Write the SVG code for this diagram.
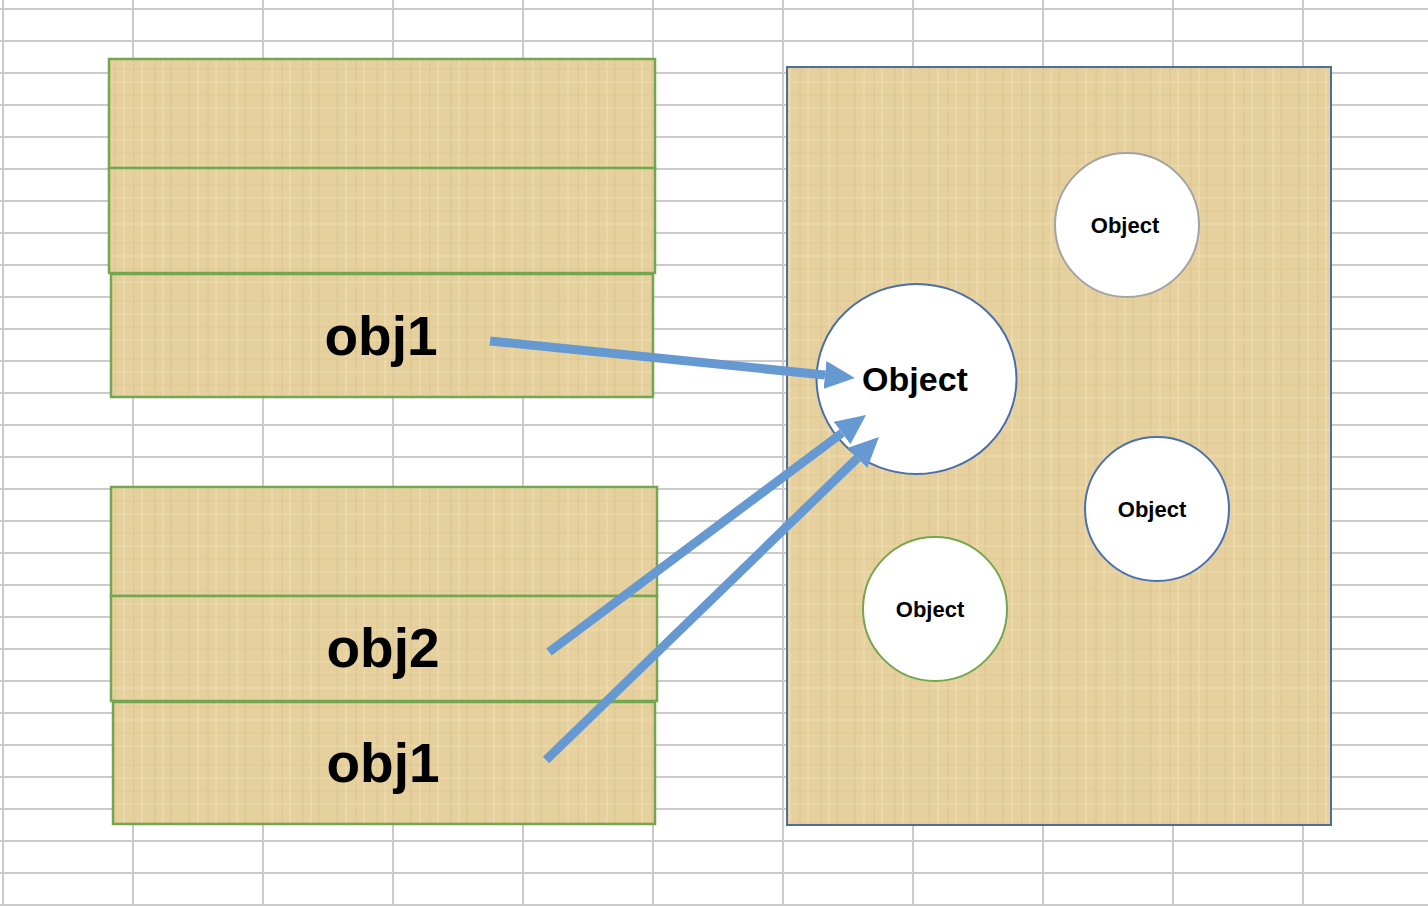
<svg xmlns="http://www.w3.org/2000/svg" width="1428" height="906" viewBox="0 0 1428 906">
<defs>
<pattern id="papyrus" x="0" y="0" width="74" height="58" patternUnits="userSpaceOnUse">
<rect width="74" height="58" fill="#e6d19e"/>
<path d="M7,0 V58 M23,0 V58 M41,0 V58 M60,0 V58" stroke="#d2b97e" stroke-width="1.2" opacity="0.45"/>
<path d="M15,0 V58 M50,0 V58 M68,0 V58" stroke="#f1e2bb" stroke-width="1.6" opacity="0.55"/>
<path d="M0,11 H74 M0,37 H74" stroke="#d3bc85" stroke-width="1" opacity="0.4"/>
<path d="M0,24 H74 M0,50 H74" stroke="#f0e1b8" stroke-width="1.3" opacity="0.5"/>
</pattern>
<marker id="arrow" markerUnits="userSpaceOnUse" markerWidth="30" markerHeight="28" viewBox="0 0 30 28" refX="0" refY="14" orient="auto">
<path d="M0,0 L30,14 L0,28 Z" fill="#6699d1"/>
</marker>
<style>
.gridline{stroke:#cbcbcb;stroke-width:2;fill:none}
.cell{fill:url(#papyrus);stroke:#74a64f;stroke-width:2.5}
.lbl{font-family:"Liberation Sans",Arial,sans-serif;font-weight:bold;fill:#000;text-anchor:middle}
.big{font-size:55px}
.obj{font-size:34px}
.sm{font-size:22px}
.conn{stroke:#6699d1;stroke-width:9;fill:none;marker-end:url(#arrow)}
.circ{fill:#ffffff;stroke-width:2}
</style>
</defs>
<rect width="1428" height="906" fill="#ffffff"/>
<g id="grid">
<path class="gridline" d="M3,0 V906 M133,0 V906 M263,0 V906 M393,0 V906 M523,0 V906 M653,0 V906 M783,0 V906 M913,0 V906 M1043,0 V906 M1173,0 V906 M1303,0 V906"/>
<path class="gridline" d="M0,9 H1428 M0,41 H1428 M0,73 H1428 M0,105 H1428 M0,137 H1428 M0,169 H1428 M0,201 H1428 M0,233 H1428 M0,265 H1428 M0,297 H1428 M0,329 H1428 M0,361 H1428 M0,393 H1428 M0,425 H1428 M0,457 H1428 M0,489 H1428 M0,521 H1428 M0,553 H1428 M0,585 H1428 M0,617 H1428 M0,649 H1428 M0,681 H1428 M0,713 H1428 M0,745 H1428 M0,777 H1428 M0,809 H1428 M0,841 H1428 M0,873 H1428 M0,905 H1428"/>
</g>

<g id="stack1">
<rect class="cell" x="109" y="59" width="546" height="109"/>
<rect class="cell" x="109" y="168" width="546" height="105"/>
<g id="stack1-obj1">
<rect class="cell" x="111" y="274" width="542" height="123"/>
<text class="lbl big" x="381" y="355">obj1</text>
</g>
</g>

<g id="stack2">
<rect class="cell" x="111" y="487" width="546" height="109"/>
<g id="stack2-obj2">
<rect class="cell" x="111" y="596" width="546" height="105"/>
<text class="lbl big" x="383" y="667">obj2</text>
</g>
<g id="stack2-obj1">
<rect class="cell" x="113" y="702" width="542" height="122"/>
<text class="lbl big" x="383" y="782">obj1</text>
</g>
</g>

<g id="heap">
<rect x="787" y="67" width="544" height="758" fill="url(#papyrus)" stroke="#4e6f9c" stroke-width="2"/>
</g>

<g id="object-main">
<ellipse class="circ" cx="916.5" cy="379" rx="100" ry="95" stroke="#4a6fa8"/>
<text class="lbl obj" x="915" y="391">Object</text>
</g>
<g id="object-top">
<circle class="circ" cx="1127" cy="225" r="72" stroke="#a3a3a3"/>
<text class="lbl sm" x="1125" y="233">Object</text>
</g>
<g id="object-mid">
<circle class="circ" cx="1157" cy="509" r="72" stroke="#4a6fb0"/>
<text class="lbl sm" x="1152" y="517">Object</text>
</g>
<g id="object-bottom">
<circle class="circ" cx="935" cy="609" r="72" stroke="#74a64f"/>
<text class="lbl sm" x="930" y="617">Object</text>
</g>

<g id="connectors">
<line class="conn" x1="490" y1="341" x2="825" y2="375"/>
<line class="conn" x1="549" y1="652" x2="842" y2="433"/>
<line class="conn" x1="546" y1="760" x2="857.5" y2="458"/>
</g>
</svg>
